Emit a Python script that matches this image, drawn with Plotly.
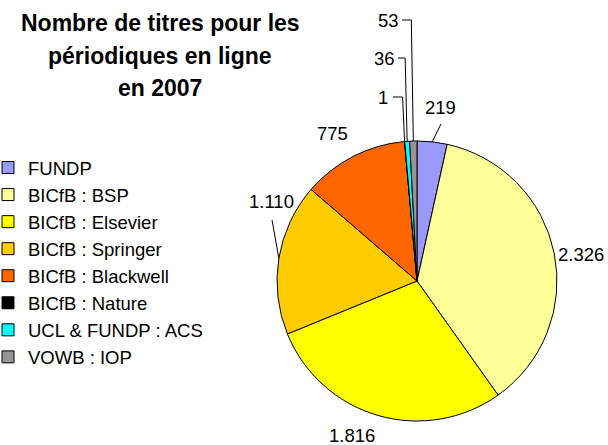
import math
import plotly.graph_objects as go

# Data
labels = ['FUNDP', 'BICfB : BSP', 'BICfB : Elsevier', 'BICfB : Springer',
          'BICfB : Blackwell', 'BICfB : Nature', 'UCL & FUNDP : ACS', 'VOWB : IOP']
values = [219, 2326, 1816, 1110, 775, 1, 36, 53]
title_lines = ['Nombre de titres pour les', 'périodiques en ligne', 'en 2007']

# Excel-like palette
COLORS = ['#9999FF', '#FFFF99', '#FFFF00', '#FFCC00',
          '#FF6600', '#000000', '#00FFFF', '#969696']

W, H = 608, 445
FONT = 'Liberation Sans, Arial, sans-serif'

# pie geometry in pixels
CX, CY, R = 417, 281, 140

# label placement (pixels): text centre, leader style
LABEL_POS = [(440, 107), (581, 254), (352, 435), (271, 202),
             (332, 133), (383, 97), (384, 58), (388, 20)]
LEADER = ['straight', None, None, 'straight', None, 'elbow', 'elbow', 'elbow']
LEADER_END = [(441, 124), None, None, (272, 220), None, None, None, None]


def px(x, y):
    return x / W, 1 - y / H


def fmt(v):
    return f'{v:,}'.replace(',', '.')


fig = go.Figure(go.Pie(
    labels=labels,
    values=values,
    sort=False,
    direction='clockwise',
    rotation=0,
    textinfo='none',
    hoverinfo='label+value+percent',
    marker=dict(colors=COLORS, line=dict(color='#000000', width=1)),
    domain=dict(x=[(CX - R) / W, (CX + R) / W],
                y=[1 - (CY + R) / H, 1 - (CY - R) / H]),
))

# edge point of each slice from its middle angle
total = sum(values)
annotations = []
shapes = []
cum = 0
for i, v in enumerate(values):
    mid = (cum + v / 2) / total * 2 * math.pi
    cum += v
    ex = CX + R * math.sin(mid)
    ey = CY - R * math.cos(mid)
    tx, ty = LABEL_POS[i]
    annotations.append(dict(
        x=px(tx, ty)[0], y=px(tx, ty)[1], xref='paper', yref='paper',
        text=fmt(v), showarrow=False, xanchor='center', yanchor='middle',
        font=dict(family=FONT, size=18.5, color='#000000')))
    if LEADER[i] == 'straight':
        pts = [(ex, ey), LEADER_END[i]]
    elif LEADER[i] == 'elbow':
        pts = [(ex, ey), (ex - 2, ty), (tx + 10 + 4 * (len(fmt(v)) - 1), ty)]
    else:
        continue
    path = 'M ' + ' L '.join(f'{px(x, y)[0]:.5f},{px(x, y)[1]:.5f}' for x, y in pts)
    shapes.append(dict(type='path', path=path, xref='paper', yref='paper',
                       line=dict(color='#000000', width=1)))

# title lines
for k, line in enumerate(title_lines):
    annotations.append(dict(
        x=px(160, 23 + 32.5 * k)[0], y=px(160, 23 + 32.5 * k)[1],
        xref='paper', yref='paper', text=f'<b>{line}</b>', showarrow=False,
        xanchor='center', yanchor='middle',
        font=dict(family=FONT, size=23, color='#000000')))

fig.update_layout(
    width=W, height=H,
    margin=dict(l=0, r=0, t=0, b=0),
    paper_bgcolor='white',
    plot_bgcolor='white',
    font=dict(family=FONT, size=18.5, color='#000000'),
    showlegend=True,
    # x stays at 0 so the legend does not push the margins
    legend=dict(x=0, y=1 - 149 / H, xanchor='left', yanchor='top',
                indentation=-12,
                traceorder='normal', bgcolor='rgba(0,0,0,0)',
                font=dict(family=FONT, size=18.5, color='#000000')),
    annotations=annotations,
    shapes=shapes,
)

# drop the default page margin so the figure sits at the window's corner
fig.write_html('out.html', config={'displayModeBar': False},
               post_script="document.body.style.margin='0';")
